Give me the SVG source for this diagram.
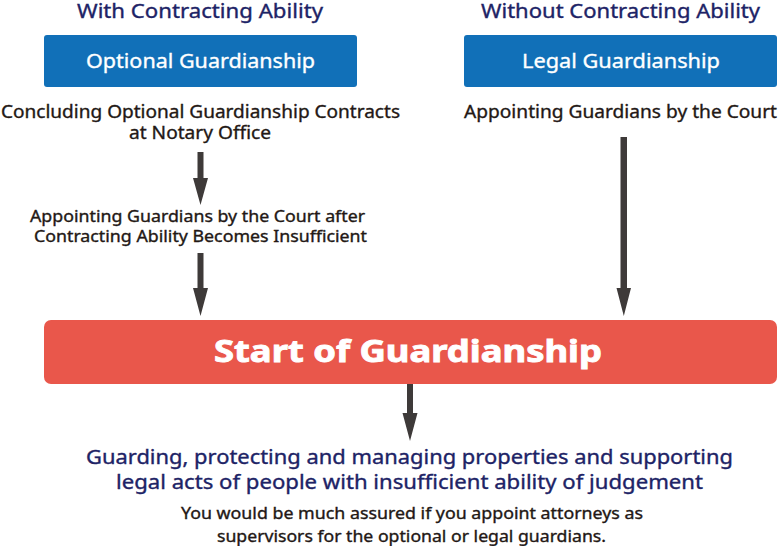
<svg xmlns="http://www.w3.org/2000/svg" width="778" height="546" viewBox="0 0 778 546">
<style>
text{font-family:"Noto Sans","Liberation Sans",sans-serif;text-anchor:middle;stroke-width:0.35px}
.hd{fill:#1d2366;stroke:#1d2366;font-size:19.5px}
.bx{fill:#ffffff;stroke:#ffffff;font-size:20px}
.dk{fill:#231815;stroke:#231815;font-size:18px}
.sm{fill:#231815;stroke:#231815;font-size:16px}
.big{fill:#ffffff;stroke:#ffffff;stroke-width:0.9px;font-size:31px;font-weight:bold}
.blue{fill:#1170b8}
.red{fill:#e9574b}
.arr{fill:#3e3a39}
</style>
<g id="head-with"><text class="hd" x="200" y="17.5" textLength="246" lengthAdjust="spacingAndGlyphs">With Contracting Ability</text></g>
<g id="head-without"><text class="hd" x="620.5" y="17.5" textLength="279" lengthAdjust="spacingAndGlyphs">Without Contracting Ability</text></g>
<g id="optional">
<rect class="blue" x="44" y="35" width="313" height="52" rx="3"/>
<text class="bx" x="200.5" y="68" textLength="229" lengthAdjust="spacingAndGlyphs">Optional Guardianship</text>
</g>
<g id="legal">
<rect class="blue" x="464" y="35" width="313" height="52" rx="3"/>
<text class="bx" x="621" y="68" textLength="198" lengthAdjust="spacingAndGlyphs">Legal Guardianship</text>
</g>
<g id="concluding">
<text class="dk" x="200.5" y="118" textLength="399" lengthAdjust="spacingAndGlyphs">Concluding Optional Guardianship Contracts</text>
<text class="dk" x="200" y="139" textLength="142" lengthAdjust="spacingAndGlyphs">at Notary Office</text>
</g>
<g id="appointing-right"><text class="dk" x="620.5" y="118" textLength="313" lengthAdjust="spacingAndGlyphs">Appointing Guardians by the Court</text></g>
<g id="appointing-after">
<text class="sm" x="197.5" y="222" textLength="335" lengthAdjust="spacingAndGlyphs">Appointing Guardians by the Court after</text>
<text class="sm" x="200.5" y="242" textLength="333" lengthAdjust="spacingAndGlyphs">Contracting Ability Becomes Insufficient</text>
</g>
<g id="start">
<rect class="red" x="44" y="320" width="733" height="64" rx="7"/>
<text class="big" x="408" y="362" textLength="388" lengthAdjust="spacingAndGlyphs">Start of Guardianship</text>
</g>
<g id="result">
<text class="hd" x="409.5" y="464" textLength="647" lengthAdjust="spacingAndGlyphs">Guarding, protecting and managing properties and supporting</text>
<text class="hd" x="409.5" y="489" textLength="587" lengthAdjust="spacingAndGlyphs">legal acts of people with insufficient ability of judgement</text>
</g>
<g id="note">
<text class="sm" x="412" y="519" textLength="462" lengthAdjust="spacingAndGlyphs">You would be much assured if you appoint attorneys as</text>
<text class="sm" x="411.5" y="542" textLength="389" lengthAdjust="spacingAndGlyphs">supervisors for the optional or legal guardians.</text>
</g>
<g id="connectors">
<polygon class="arr" points="197.5,152 203.5,152 203.5,178 208,178 200.5,205 193,178 197.5,178"/>
<polygon class="arr" points="197.5,253 203.5,253 203.5,288 208,288 200.5,316 193,288 197.5,288"/>
<polygon class="arr" points="620.5,137 627,137 627,288 631,288 623.8,316 616.5,288 620.5,288"/>
<polygon class="arr" points="407,384 413,384 413,413 417.5,413 410,441 402.5,413 407,413"/>
</g>
</svg>
